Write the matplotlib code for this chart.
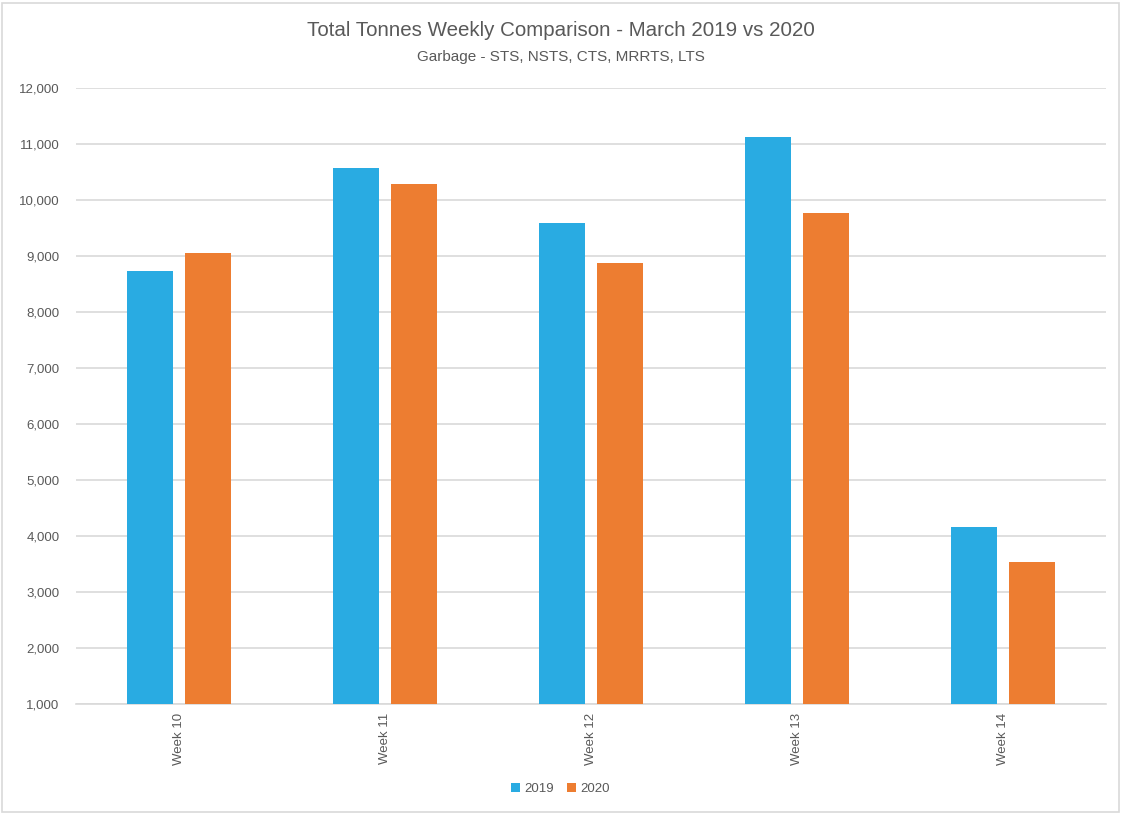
import numpy as np
import matplotlib
matplotlib.use("Agg")
import matplotlib.pyplot as plt
from matplotlib.patches import Rectangle

# data
weeks = ["Week 10", "Week 11", "Week 12", "Week 13", "Week 14"]
tonnes_2019 = [8730, 10565, 9583, 11118, 4155]
tonnes_2020 = [9058, 10280, 8880, 9773, 3530]
y_ticks = list(range(1000, 12001, 1000))

blue = "#29ABE2"
orange = "#ED7D31"
txt = "#595959"

plt.rcParams["font.family"] = ["Liberation Sans", "DejaVu Sans"]

fig = plt.figure(figsize=(11.21, 8.14), dpi=100)
ax = fig.add_axes([0.0678, 0.135, 0.9188, 0.757])

x = np.arange(len(weeks))
w = 0.223
off = 0.142
ax.bar(x - off, tonnes_2019, w, bottom=0, color=blue, label="2019", zorder=3)
ax.bar(x + off, tonnes_2020, w, bottom=0, color=orange, label="2020", zorder=3)

ax.set_xlim(-0.5, len(weeks) - 0.5)
ax.set_ylim(1000, 12000)
ax.set_yticks(y_ticks)
ax.set_yticklabels([f"{v:,}" for v in y_ticks])
ax.set_xticks(x)
ax.set_xticklabels(weeks, rotation=90)
ax.tick_params(axis="both", length=0, colors=txt, labelsize=9.5)
ax.tick_params(axis="y", pad=12)
ax.tick_params(axis="x", pad=6)

ax.grid(axis="y", color="#d9d9d9", linewidth=1.2, zorder=0)
for s in ["left", "right", "top"]:
    ax.spines[s].set_visible(False)
ax.spines["bottom"].set_color("#d9d9d9")
ax.spines["bottom"].set_linewidth(1.2)

fig.text(0.5, 0.962, "Total Tonnes Weekly Comparison - March 2019 vs 2020",
         ha="center", va="center", fontsize=14.8, color=txt)
fig.text(0.5, 0.930, "Garbage - STS, NSTS, CTS, MRRTS, LTS",
         ha="center", va="center", fontsize=11, color=txt)

fig.legend(loc="center", bbox_to_anchor=(0.5, 0.031), ncol=2, frameon=False,
           fontsize=9.5, labelcolor=txt, handlelength=0.7, handleheight=0.7,
           handletextpad=0.3, columnspacing=1.0)

# light border round the chart area
fig.patches.append(Rectangle((0.002, 0.002), 0.996, 0.994, transform=fig.transFigure,
                             fill=False, edgecolor="#d9d9d9", linewidth=1.2))

fig.savefig("out.png", dpi=100)
